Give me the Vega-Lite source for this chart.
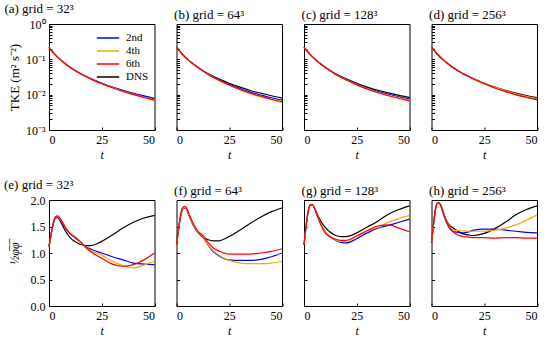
{
"$schema": "https://vega.github.io/schema/vega-lite/v6.json",
"padding": {"left": 3, "top": 2, "right": 5, "bottom": 3},
"bounds": "flush",
"columns": 4,
"spacing": {"row": 70, "column": 21.5},
"resolve": {"scale": {"color": "independent"}, "legend": {"color": "independent"}},
"data": {"values": [
{"p":"a","s":"DNS","t":0,"v":0.22},{"p":"a","s":"DNS","t":2.5,"v":0.145},{"p":"a","s":"DNS","t":5,"v":0.103},{"p":"a","s":"DNS","t":7.5,"v":0.077},{"p":"a","s":"DNS","t":10,"v":0.060},{"p":"a","s":"DNS","t":15,"v":0.039},{"p":"a","s":"DNS","t":20,"v":0.028},{"p":"a","s":"DNS","t":25,"v":0.021},{"p":"a","s":"DNS","t":30,"v":0.0162},{"p":"a","s":"DNS","t":35,"v":0.0130},{"p":"a","s":"DNS","t":40,"v":0.0107},{"p":"a","s":"DNS","t":45,"v":0.0089},{"p":"a","s":"DNS","t":50,"v":0.0076},
{"p":"a","s":"2nd","t":0,"v":0.22},{"p":"a","s":"2nd","t":2.5,"v":0.145},{"p":"a","s":"2nd","t":5,"v":0.103},{"p":"a","s":"2nd","t":7.5,"v":0.077},{"p":"a","s":"2nd","t":10,"v":0.060},{"p":"a","s":"2nd","t":15,"v":0.039},{"p":"a","s":"2nd","t":20,"v":0.028},{"p":"a","s":"2nd","t":25,"v":0.0211},{"p":"a","s":"2nd","t":30,"v":0.0164},{"p":"a","s":"2nd","t":35,"v":0.0132},{"p":"a","s":"2nd","t":40,"v":0.0109},{"p":"a","s":"2nd","t":45,"v":0.0092},{"p":"a","s":"2nd","t":50,"v":0.0079},
{"p":"a","s":"4th","t":0,"v":0.22},{"p":"a","s":"4th","t":2.5,"v":0.145},{"p":"a","s":"4th","t":5,"v":0.103},{"p":"a","s":"4th","t":7.5,"v":0.077},{"p":"a","s":"4th","t":10,"v":0.060},{"p":"a","s":"4th","t":15,"v":0.039},{"p":"a","s":"4th","t":20,"v":0.0278},{"p":"a","s":"4th","t":25,"v":0.0207},{"p":"a","s":"4th","t":30,"v":0.0159},{"p":"a","s":"4th","t":35,"v":0.0126},{"p":"a","s":"4th","t":40,"v":0.0103},{"p":"a","s":"4th","t":45,"v":0.0085},{"p":"a","s":"4th","t":50,"v":0.0072},
{"p":"a","s":"6th","t":0,"v":0.215},{"p":"a","s":"6th","t":2.5,"v":0.142},{"p":"a","s":"6th","t":5,"v":0.101},{"p":"a","s":"6th","t":7.5,"v":0.076},{"p":"a","s":"6th","t":10,"v":0.059},{"p":"a","s":"6th","t":15,"v":0.039},{"p":"a","s":"6th","t":20,"v":0.0275},{"p":"a","s":"6th","t":25,"v":0.0205},{"p":"a","s":"6th","t":30,"v":0.0157},{"p":"a","s":"6th","t":35,"v":0.0124},{"p":"a","s":"6th","t":40,"v":0.0100},{"p":"a","s":"6th","t":45,"v":0.0083},{"p":"a","s":"6th","t":50,"v":0.0069},
{"p":"b","s":"DNS","t":0,"v":0.22},{"p":"b","s":"DNS","t":2.5,"v":0.145},{"p":"b","s":"DNS","t":5,"v":0.103},{"p":"b","s":"DNS","t":7.5,"v":0.077},{"p":"b","s":"DNS","t":10,"v":0.060},{"p":"b","s":"DNS","t":15,"v":0.039},{"p":"b","s":"DNS","t":20,"v":0.028},{"p":"b","s":"DNS","t":25,"v":0.021},{"p":"b","s":"DNS","t":30,"v":0.0163},{"p":"b","s":"DNS","t":35,"v":0.0131},{"p":"b","s":"DNS","t":40,"v":0.0110},{"p":"b","s":"DNS","t":45,"v":0.0093},{"p":"b","s":"DNS","t":50,"v":0.0080},
{"p":"b","s":"2nd","t":0,"v":0.22},{"p":"b","s":"2nd","t":2.5,"v":0.145},{"p":"b","s":"2nd","t":5,"v":0.103},{"p":"b","s":"2nd","t":7.5,"v":0.077},{"p":"b","s":"2nd","t":10,"v":0.060},{"p":"b","s":"2nd","t":15,"v":0.0382},{"p":"b","s":"2nd","t":20,"v":0.0269},{"p":"b","s":"2nd","t":25,"v":0.0197},{"p":"b","s":"2nd","t":30,"v":0.0150},{"p":"b","s":"2nd","t":35,"v":0.0118},{"p":"b","s":"2nd","t":40,"v":0.0098},{"p":"b","s":"2nd","t":45,"v":0.0082},{"p":"b","s":"2nd","t":50,"v":0.0070},
{"p":"b","s":"4th","t":0,"v":0.22},{"p":"b","s":"4th","t":2.5,"v":0.145},{"p":"b","s":"4th","t":5,"v":0.103},{"p":"b","s":"4th","t":7.5,"v":0.077},{"p":"b","s":"4th","t":10,"v":0.060},{"p":"b","s":"4th","t":15,"v":0.0374},{"p":"b","s":"4th","t":20,"v":0.0258},{"p":"b","s":"4th","t":25,"v":0.0185},{"p":"b","s":"4th","t":30,"v":0.0139},{"p":"b","s":"4th","t":35,"v":0.0107},{"p":"b","s":"4th","t":40,"v":0.0087},{"p":"b","s":"4th","t":45,"v":0.0072},{"p":"b","s":"4th","t":50,"v":0.0059},
{"p":"b","s":"6th","t":0,"v":0.22},{"p":"b","s":"6th","t":2.5,"v":0.145},{"p":"b","s":"6th","t":5,"v":0.103},{"p":"b","s":"6th","t":7.5,"v":0.077},{"p":"b","s":"6th","t":10,"v":0.060},{"p":"b","s":"6th","t":15,"v":0.0374},{"p":"b","s":"6th","t":20,"v":0.0258},{"p":"b","s":"6th","t":25,"v":0.0187},{"p":"b","s":"6th","t":30,"v":0.0140},{"p":"b","s":"6th","t":35,"v":0.0110},{"p":"b","s":"6th","t":40,"v":0.0090},{"p":"b","s":"6th","t":45,"v":0.0074},{"p":"b","s":"6th","t":50,"v":0.0063},
{"p":"c","s":"DNS","t":0,"v":0.22},{"p":"c","s":"DNS","t":2.5,"v":0.145},{"p":"c","s":"DNS","t":5,"v":0.103},{"p":"c","s":"DNS","t":7.5,"v":0.077},{"p":"c","s":"DNS","t":10,"v":0.060},{"p":"c","s":"DNS","t":15,"v":0.039},{"p":"c","s":"DNS","t":20,"v":0.028},{"p":"c","s":"DNS","t":25,"v":0.021},{"p":"c","s":"DNS","t":30,"v":0.0164},{"p":"c","s":"DNS","t":35,"v":0.0133},{"p":"c","s":"DNS","t":40,"v":0.0112},{"p":"c","s":"DNS","t":45,"v":0.0096},{"p":"c","s":"DNS","t":50,"v":0.0084},
{"p":"c","s":"2nd","t":0,"v":0.22},{"p":"c","s":"2nd","t":2.5,"v":0.145},{"p":"c","s":"2nd","t":5,"v":0.103},{"p":"c","s":"2nd","t":7.5,"v":0.077},{"p":"c","s":"2nd","t":10,"v":0.060},{"p":"c","s":"2nd","t":15,"v":0.0382},{"p":"c","s":"2nd","t":20,"v":0.0269},{"p":"c","s":"2nd","t":25,"v":0.0200},{"p":"c","s":"2nd","t":30,"v":0.0154},{"p":"c","s":"2nd","t":35,"v":0.0124},{"p":"c","s":"2nd","t":40,"v":0.0103},{"p":"c","s":"2nd","t":45,"v":0.0087},{"p":"c","s":"2nd","t":50,"v":0.0076},
{"p":"c","s":"4th","t":0,"v":0.22},{"p":"c","s":"4th","t":2.5,"v":0.145},{"p":"c","s":"4th","t":5,"v":0.103},{"p":"c","s":"4th","t":7.5,"v":0.077},{"p":"c","s":"4th","t":10,"v":0.060},{"p":"c","s":"4th","t":15,"v":0.0378},{"p":"c","s":"4th","t":20,"v":0.0263},{"p":"c","s":"4th","t":25,"v":0.0193},{"p":"c","s":"4th","t":30,"v":0.0148},{"p":"c","s":"4th","t":35,"v":0.0117},{"p":"c","s":"4th","t":40,"v":0.0096},{"p":"c","s":"4th","t":45,"v":0.0082},{"p":"c","s":"4th","t":50,"v":0.0071},
{"p":"c","s":"6th","t":0,"v":0.22},{"p":"c","s":"6th","t":2.5,"v":0.145},{"p":"c","s":"6th","t":5,"v":0.103},{"p":"c","s":"6th","t":7.5,"v":0.077},{"p":"c","s":"6th","t":10,"v":0.060},{"p":"c","s":"6th","t":15,"v":0.0374},{"p":"c","s":"6th","t":20,"v":0.0260},{"p":"c","s":"6th","t":25,"v":0.0189},{"p":"c","s":"6th","t":30,"v":0.0143},{"p":"c","s":"6th","t":35,"v":0.0113},{"p":"c","s":"6th","t":40,"v":0.0093},{"p":"c","s":"6th","t":45,"v":0.0078},{"p":"c","s":"6th","t":50,"v":0.0067},
{"p":"d","s":"DNS","t":0,"v":0.22},{"p":"d","s":"DNS","t":2.5,"v":0.145},{"p":"d","s":"DNS","t":5,"v":0.103},{"p":"d","s":"DNS","t":7.5,"v":0.077},{"p":"d","s":"DNS","t":10,"v":0.060},{"p":"d","s":"DNS","t":15,"v":0.039},{"p":"d","s":"DNS","t":20,"v":0.028},{"p":"d","s":"DNS","t":25,"v":0.021},{"p":"d","s":"DNS","t":30,"v":0.0163},{"p":"d","s":"DNS","t":35,"v":0.0132},{"p":"d","s":"DNS","t":40,"v":0.0110},{"p":"d","s":"DNS","t":45,"v":0.0094},{"p":"d","s":"DNS","t":50,"v":0.0082},
{"p":"d","s":"2nd","t":0,"v":0.22},{"p":"d","s":"2nd","t":2.5,"v":0.145},{"p":"d","s":"2nd","t":5,"v":0.103},{"p":"d","s":"2nd","t":7.5,"v":0.077},{"p":"d","s":"2nd","t":10,"v":0.060},{"p":"d","s":"2nd","t":15,"v":0.039},{"p":"d","s":"2nd","t":20,"v":0.028},{"p":"d","s":"2nd","t":25,"v":0.0207},{"p":"d","s":"2nd","t":30,"v":0.0158},{"p":"d","s":"2nd","t":35,"v":0.0127},{"p":"d","s":"2nd","t":40,"v":0.0104},{"p":"d","s":"2nd","t":45,"v":0.0088},{"p":"d","s":"2nd","t":50,"v":0.0076},
{"p":"d","s":"4th","t":0,"v":0.22},{"p":"d","s":"4th","t":2.5,"v":0.145},{"p":"d","s":"4th","t":5,"v":0.103},{"p":"d","s":"4th","t":7.5,"v":0.077},{"p":"d","s":"4th","t":10,"v":0.060},{"p":"d","s":"4th","t":15,"v":0.039},{"p":"d","s":"4th","t":20,"v":0.028},{"p":"d","s":"4th","t":25,"v":0.0209},{"p":"d","s":"4th","t":30,"v":0.0161},{"p":"d","s":"4th","t":35,"v":0.0129},{"p":"d","s":"4th","t":40,"v":0.0106},{"p":"d","s":"4th","t":45,"v":0.0090},{"p":"d","s":"4th","t":50,"v":0.0078},
{"p":"d","s":"6th","t":0,"v":0.22},{"p":"d","s":"6th","t":2.5,"v":0.145},{"p":"d","s":"6th","t":5,"v":0.103},{"p":"d","s":"6th","t":7.5,"v":0.077},{"p":"d","s":"6th","t":10,"v":0.060},{"p":"d","s":"6th","t":15,"v":0.039},{"p":"d","s":"6th","t":20,"v":0.0277},{"p":"d","s":"6th","t":25,"v":0.0205},{"p":"d","s":"6th","t":30,"v":0.0155},{"p":"d","s":"6th","t":35,"v":0.0122},{"p":"d","s":"6th","t":40,"v":0.0099},{"p":"d","s":"6th","t":45,"v":0.0083},{"p":"d","s":"6th","t":50,"v":0.0071},
{"p":"e","s":"DNS","t":0,"v":1.12},{"p":"e","s":"DNS","t":1,"v":1.35},{"p":"e","s":"DNS","t":2,"v":1.55},{"p":"e","s":"DNS","t":3,"v":1.66},{"p":"e","s":"DNS","t":4,"v":1.68},{"p":"e","s":"DNS","t":5,"v":1.63},{"p":"e","s":"DNS","t":6,"v":1.55},{"p":"e","s":"DNS","t":8,"v":1.40},{"p":"e","s":"DNS","t":10,"v":1.29},{"p":"e","s":"DNS","t":12.5,"v":1.21},{"p":"e","s":"DNS","t":15,"v":1.16},{"p":"e","s":"DNS","t":17.5,"v":1.14},{"p":"e","s":"DNS","t":20,"v":1.14},{"p":"e","s":"DNS","t":25,"v":1.22},{"p":"e","s":"DNS","t":30,"v":1.34},{"p":"e","s":"DNS","t":35,"v":1.47},{"p":"e","s":"DNS","t":40,"v":1.58},{"p":"e","s":"DNS","t":45,"v":1.66},{"p":"e","s":"DNS","t":50,"v":1.71},
{"p":"e","s":"2nd","t":0,"v":1.12},{"p":"e","s":"2nd","t":1,"v":1.35},{"p":"e","s":"2nd","t":2,"v":1.55},{"p":"e","s":"2nd","t":3,"v":1.65},{"p":"e","s":"2nd","t":4,"v":1.67},{"p":"e","s":"2nd","t":5,"v":1.64},{"p":"e","s":"2nd","t":6,"v":1.58},{"p":"e","s":"2nd","t":8,"v":1.45},{"p":"e","s":"2nd","t":10,"v":1.36},{"p":"e","s":"2nd","t":12.5,"v":1.28},{"p":"e","s":"2nd","t":15,"v":1.20},{"p":"e","s":"2nd","t":17.5,"v":1.12},{"p":"e","s":"2nd","t":20,"v":1.07},{"p":"e","s":"2nd","t":25,"v":1.00},{"p":"e","s":"2nd","t":30,"v":0.93},{"p":"e","s":"2nd","t":35,"v":0.87},{"p":"e","s":"2nd","t":40,"v":0.81},{"p":"e","s":"2nd","t":45,"v":0.79},{"p":"e","s":"2nd","t":50,"v":0.78},
{"p":"e","s":"4th","t":0,"v":1.12},{"p":"e","s":"4th","t":1,"v":1.35},{"p":"e","s":"4th","t":2,"v":1.55},{"p":"e","s":"4th","t":3,"v":1.66},{"p":"e","s":"4th","t":4,"v":1.69},{"p":"e","s":"4th","t":5,"v":1.66},{"p":"e","s":"4th","t":6,"v":1.60},{"p":"e","s":"4th","t":8,"v":1.46},{"p":"e","s":"4th","t":10,"v":1.37},{"p":"e","s":"4th","t":12.5,"v":1.29},{"p":"e","s":"4th","t":15,"v":1.20},{"p":"e","s":"4th","t":17.5,"v":1.11},{"p":"e","s":"4th","t":20,"v":1.04},{"p":"e","s":"4th","t":25,"v":0.96},{"p":"e","s":"4th","t":30,"v":0.85},{"p":"e","s":"4th","t":35,"v":0.76},{"p":"e","s":"4th","t":40,"v":0.72},{"p":"e","s":"4th","t":45,"v":0.77},{"p":"e","s":"4th","t":50,"v":0.85},
{"p":"e","s":"6th","t":0,"v":1.12},{"p":"e","s":"6th","t":1,"v":1.36},{"p":"e","s":"6th","t":2,"v":1.57},{"p":"e","s":"6th","t":3,"v":1.68},{"p":"e","s":"6th","t":4,"v":1.70},{"p":"e","s":"6th","t":5,"v":1.67},{"p":"e","s":"6th","t":6,"v":1.61},{"p":"e","s":"6th","t":8,"v":1.47},{"p":"e","s":"6th","t":10,"v":1.37},{"p":"e","s":"6th","t":12.5,"v":1.30},{"p":"e","s":"6th","t":15,"v":1.21},{"p":"e","s":"6th","t":17.5,"v":1.10},{"p":"e","s":"6th","t":20,"v":1.02},{"p":"e","s":"6th","t":25,"v":0.90},{"p":"e","s":"6th","t":30,"v":0.79},{"p":"e","s":"6th","t":35,"v":0.75},{"p":"e","s":"6th","t":40,"v":0.78},{"p":"e","s":"6th","t":45,"v":0.87},{"p":"e","s":"6th","t":50,"v":1.00},
{"p":"f","s":"DNS","t":0,"v":1.16},{"p":"f","s":"DNS","t":1,"v":1.45},{"p":"f","s":"DNS","t":2,"v":1.70},{"p":"f","s":"DNS","t":3,"v":1.83},{"p":"f","s":"DNS","t":4,"v":1.85},{"p":"f","s":"DNS","t":5,"v":1.80},{"p":"f","s":"DNS","t":6,"v":1.70},{"p":"f","s":"DNS","t":8,"v":1.52},{"p":"f","s":"DNS","t":10,"v":1.40},{"p":"f","s":"DNS","t":12.5,"v":1.30},{"p":"f","s":"DNS","t":15,"v":1.25},{"p":"f","s":"DNS","t":17.5,"v":1.23},{"p":"f","s":"DNS","t":20,"v":1.23},{"p":"f","s":"DNS","t":25,"v":1.31},{"p":"f","s":"DNS","t":30,"v":1.43},{"p":"f","s":"DNS","t":35,"v":1.56},{"p":"f","s":"DNS","t":40,"v":1.68},{"p":"f","s":"DNS","t":45,"v":1.78},{"p":"f","s":"DNS","t":50,"v":1.85},
{"p":"f","s":"2nd","t":0,"v":1.16},{"p":"f","s":"2nd","t":1,"v":1.46},{"p":"f","s":"2nd","t":2,"v":1.71},{"p":"f","s":"2nd","t":3,"v":1.84},{"p":"f","s":"2nd","t":4,"v":1.86},{"p":"f","s":"2nd","t":5,"v":1.81},{"p":"f","s":"2nd","t":6,"v":1.71},{"p":"f","s":"2nd","t":8,"v":1.53},{"p":"f","s":"2nd","t":10,"v":1.41},{"p":"f","s":"2nd","t":12.5,"v":1.30},{"p":"f","s":"2nd","t":15,"v":1.15},{"p":"f","s":"2nd","t":17.5,"v":1.02},{"p":"f","s":"2nd","t":20,"v":0.95},{"p":"f","s":"2nd","t":25,"v":0.87},{"p":"f","s":"2nd","t":30,"v":0.86},{"p":"f","s":"2nd","t":35,"v":0.86},{"p":"f","s":"2nd","t":40,"v":0.88},{"p":"f","s":"2nd","t":45,"v":0.93},{"p":"f","s":"2nd","t":50,"v":1.00},
{"p":"f","s":"4th","t":0,"v":1.16},{"p":"f","s":"4th","t":1,"v":1.46},{"p":"f","s":"4th","t":2,"v":1.71},{"p":"f","s":"4th","t":3,"v":1.84},{"p":"f","s":"4th","t":4,"v":1.86},{"p":"f","s":"4th","t":5,"v":1.81},{"p":"f","s":"4th","t":6,"v":1.71},{"p":"f","s":"4th","t":8,"v":1.53},{"p":"f","s":"4th","t":10,"v":1.41},{"p":"f","s":"4th","t":12.5,"v":1.31},{"p":"f","s":"4th","t":15,"v":1.16},{"p":"f","s":"4th","t":17.5,"v":1.04},{"p":"f","s":"4th","t":20,"v":0.96},{"p":"f","s":"4th","t":25,"v":0.86},{"p":"f","s":"4th","t":30,"v":0.81},{"p":"f","s":"4th","t":35,"v":0.80},{"p":"f","s":"4th","t":40,"v":0.80},{"p":"f","s":"4th","t":45,"v":0.81},{"p":"f","s":"4th","t":50,"v":0.84},
{"p":"f","s":"6th","t":0,"v":1.16},{"p":"f","s":"6th","t":1,"v":1.48},{"p":"f","s":"6th","t":2,"v":1.73},{"p":"f","s":"6th","t":3,"v":1.86},{"p":"f","s":"6th","t":4,"v":1.88},{"p":"f","s":"6th","t":5,"v":1.83},{"p":"f","s":"6th","t":6,"v":1.73},{"p":"f","s":"6th","t":8,"v":1.55},{"p":"f","s":"6th","t":10,"v":1.42},{"p":"f","s":"6th","t":12.5,"v":1.33},{"p":"f","s":"6th","t":15,"v":1.20},{"p":"f","s":"6th","t":17.5,"v":1.09},{"p":"f","s":"6th","t":20,"v":1.04},{"p":"f","s":"6th","t":25,"v":0.98},{"p":"f","s":"6th","t":30,"v":0.98},{"p":"f","s":"6th","t":35,"v":0.98},{"p":"f","s":"6th","t":40,"v":1.00},{"p":"f","s":"6th","t":45,"v":1.03},{"p":"f","s":"6th","t":50,"v":1.08},
{"p":"g","s":"DNS","t":0,"v":1.15},{"p":"g","s":"DNS","t":1,"v":1.50},{"p":"g","s":"DNS","t":2,"v":1.78},{"p":"g","s":"DNS","t":3,"v":1.90},{"p":"g","s":"DNS","t":4,"v":1.91},{"p":"g","s":"DNS","t":5,"v":1.85},{"p":"g","s":"DNS","t":6,"v":1.76},{"p":"g","s":"DNS","t":8,"v":1.60},{"p":"g","s":"DNS","t":10,"v":1.49},{"p":"g","s":"DNS","t":12.5,"v":1.39},{"p":"g","s":"DNS","t":15,"v":1.33},{"p":"g","s":"DNS","t":17.5,"v":1.31},{"p":"g","s":"DNS","t":20,"v":1.31},{"p":"g","s":"DNS","t":25,"v":1.38},{"p":"g","s":"DNS","t":30,"v":1.49},{"p":"g","s":"DNS","t":35,"v":1.60},{"p":"g","s":"DNS","t":40,"v":1.73},{"p":"g","s":"DNS","t":45,"v":1.82},{"p":"g","s":"DNS","t":50,"v":1.89},
{"p":"g","s":"2nd","t":0,"v":1.15},{"p":"g","s":"2nd","t":1,"v":1.51},{"p":"g","s":"2nd","t":2,"v":1.79},{"p":"g","s":"2nd","t":3,"v":1.91},{"p":"g","s":"2nd","t":4,"v":1.91},{"p":"g","s":"2nd","t":5,"v":1.84},{"p":"g","s":"2nd","t":6,"v":1.74},{"p":"g","s":"2nd","t":8,"v":1.55},{"p":"g","s":"2nd","t":10,"v":1.40},{"p":"g","s":"2nd","t":12.5,"v":1.30},{"p":"g","s":"2nd","t":15,"v":1.24},{"p":"g","s":"2nd","t":17.5,"v":1.20},{"p":"g","s":"2nd","t":20,"v":1.19},{"p":"g","s":"2nd","t":25,"v":1.27},{"p":"g","s":"2nd","t":30,"v":1.38},{"p":"g","s":"2nd","t":35,"v":1.47},{"p":"g","s":"2nd","t":40,"v":1.52},{"p":"g","s":"2nd","t":45,"v":1.58},{"p":"g","s":"2nd","t":50,"v":1.64},
{"p":"g","s":"4th","t":0,"v":1.15},{"p":"g","s":"4th","t":1,"v":1.51},{"p":"g","s":"4th","t":2,"v":1.79},{"p":"g","s":"4th","t":3,"v":1.91},{"p":"g","s":"4th","t":4,"v":1.91},{"p":"g","s":"4th","t":5,"v":1.84},{"p":"g","s":"4th","t":6,"v":1.74},{"p":"g","s":"4th","t":8,"v":1.55},{"p":"g","s":"4th","t":10,"v":1.40},{"p":"g","s":"4th","t":12.5,"v":1.31},{"p":"g","s":"4th","t":15,"v":1.25},{"p":"g","s":"4th","t":17.5,"v":1.22},{"p":"g","s":"4th","t":20,"v":1.22},{"p":"g","s":"4th","t":25,"v":1.32},{"p":"g","s":"4th","t":30,"v":1.43},{"p":"g","s":"4th","t":35,"v":1.48},{"p":"g","s":"4th","t":40,"v":1.58},{"p":"g","s":"4th","t":45,"v":1.65},{"p":"g","s":"4th","t":50,"v":1.71},
{"p":"g","s":"6th","t":0,"v":1.15},{"p":"g","s":"6th","t":1,"v":1.52},{"p":"g","s":"6th","t":2,"v":1.80},{"p":"g","s":"6th","t":3,"v":1.92},{"p":"g","s":"6th","t":4,"v":1.92},{"p":"g","s":"6th","t":5,"v":1.84},{"p":"g","s":"6th","t":6,"v":1.73},{"p":"g","s":"6th","t":8,"v":1.53},{"p":"g","s":"6th","t":10,"v":1.38},{"p":"g","s":"6th","t":12.5,"v":1.30},{"p":"g","s":"6th","t":15,"v":1.26},{"p":"g","s":"6th","t":17.5,"v":1.24},{"p":"g","s":"6th","t":20,"v":1.24},{"p":"g","s":"6th","t":25,"v":1.32},{"p":"g","s":"6th","t":30,"v":1.42},{"p":"g","s":"6th","t":35,"v":1.51},{"p":"g","s":"6th","t":40,"v":1.53},{"p":"g","s":"6th","t":45,"v":1.47},{"p":"g","s":"6th","t":50,"v":1.40},
{"p":"h","s":"DNS","t":0,"v":1.19},{"p":"h","s":"DNS","t":1,"v":1.55},{"p":"h","s":"DNS","t":2,"v":1.84},{"p":"h","s":"DNS","t":3,"v":1.94},{"p":"h","s":"DNS","t":4,"v":1.93},{"p":"h","s":"DNS","t":5,"v":1.84},{"p":"h","s":"DNS","t":6,"v":1.72},{"p":"h","s":"DNS","t":8,"v":1.55},{"p":"h","s":"DNS","t":10,"v":1.48},{"p":"h","s":"DNS","t":12.5,"v":1.41},{"p":"h","s":"DNS","t":15,"v":1.36},{"p":"h","s":"DNS","t":17.5,"v":1.34},{"p":"h","s":"DNS","t":20,"v":1.33},{"p":"h","s":"DNS","t":25,"v":1.37},{"p":"h","s":"DNS","t":30,"v":1.46},{"p":"h","s":"DNS","t":35,"v":1.58},{"p":"h","s":"DNS","t":40,"v":1.72},{"p":"h","s":"DNS","t":45,"v":1.82},{"p":"h","s":"DNS","t":50,"v":1.89},
{"p":"h","s":"2nd","t":0,"v":1.19},{"p":"h","s":"2nd","t":1,"v":1.56},{"p":"h","s":"2nd","t":2,"v":1.85},{"p":"h","s":"2nd","t":3,"v":1.94},{"p":"h","s":"2nd","t":4,"v":1.92},{"p":"h","s":"2nd","t":5,"v":1.82},{"p":"h","s":"2nd","t":6,"v":1.69},{"p":"h","s":"2nd","t":8,"v":1.50},{"p":"h","s":"2nd","t":10,"v":1.41},{"p":"h","s":"2nd","t":12.5,"v":1.39},{"p":"h","s":"2nd","t":15,"v":1.38},{"p":"h","s":"2nd","t":17.5,"v":1.40},{"p":"h","s":"2nd","t":20,"v":1.43},{"p":"h","s":"2nd","t":25,"v":1.45},{"p":"h","s":"2nd","t":30,"v":1.45},{"p":"h","s":"2nd","t":35,"v":1.43},{"p":"h","s":"2nd","t":40,"v":1.41},{"p":"h","s":"2nd","t":45,"v":1.39},{"p":"h","s":"2nd","t":50,"v":1.38},
{"p":"h","s":"4th","t":0,"v":1.19},{"p":"h","s":"4th","t":1,"v":1.56},{"p":"h","s":"4th","t":2,"v":1.85},{"p":"h","s":"4th","t":3,"v":1.94},{"p":"h","s":"4th","t":4,"v":1.92},{"p":"h","s":"4th","t":5,"v":1.83},{"p":"h","s":"4th","t":6,"v":1.71},{"p":"h","s":"4th","t":8,"v":1.53},{"p":"h","s":"4th","t":10,"v":1.44},{"p":"h","s":"4th","t":12.5,"v":1.42},{"p":"h","s":"4th","t":15,"v":1.42},{"p":"h","s":"4th","t":17.5,"v":1.41},{"p":"h","s":"4th","t":20,"v":1.41},{"p":"h","s":"4th","t":25,"v":1.41},{"p":"h","s":"4th","t":30,"v":1.43},{"p":"h","s":"4th","t":35,"v":1.47},{"p":"h","s":"4th","t":40,"v":1.53},{"p":"h","s":"4th","t":45,"v":1.62},{"p":"h","s":"4th","t":50,"v":1.72},
{"p":"h","s":"6th","t":0,"v":1.19},{"p":"h","s":"6th","t":1,"v":1.57},{"p":"h","s":"6th","t":2,"v":1.86},{"p":"h","s":"6th","t":3,"v":1.95},{"p":"h","s":"6th","t":4,"v":1.93},{"p":"h","s":"6th","t":5,"v":1.83},{"p":"h","s":"6th","t":6,"v":1.70},{"p":"h","s":"6th","t":8,"v":1.52},{"p":"h","s":"6th","t":10,"v":1.41},{"p":"h","s":"6th","t":12.5,"v":1.34},{"p":"h","s":"6th","t":15,"v":1.31},{"p":"h","s":"6th","t":17.5,"v":1.30},{"p":"h","s":"6th","t":20,"v":1.29},{"p":"h","s":"6th","t":25,"v":1.29},{"p":"h","s":"6th","t":30,"v":1.28},{"p":"h","s":"6th","t":35,"v":1.29},{"p":"h","s":"6th","t":40,"v":1.29},{"p":"h","s":"6th","t":45,"v":1.28},{"p":"h","s":"6th","t":50,"v":1.28}
]},
"concat": [
{"title": {"text": "(a) grid = 32³", "dx": -4}, "width": 105.5, "height": 106,
 "transform": [{"filter": "datum.p == 'a'"}],
 "mark": {"type": "line", "strokeWidth": 1.2, "interpolate": "monotone"},
 "encoding": {
  "x": {"field": "t", "type": "quantitative", "scale": {"domain": [0, 50]}, "axis": {"values": [0, 25, 50], "title": "t"}},
  "y": {"field": "v", "type": "quantitative", "scale": {"type": "log", "domain": [0.001, 1]}, "axis": {"values": [0.001,0.002,0.003,0.004,0.005,0.006,0.007,0.008,0.009,0.01,0.02,0.03,0.04,0.05,0.06,0.07,0.08,0.09,0.1,0.2,0.3,0.4,0.5,0.6,0.7,0.8,0.9,1], "labelExpr": "datum.value == 1 ? '10⁰' : datum.value == 0.1 ? '10⁻¹' : datum.value == 0.01 ? '10⁻²' : datum.value == 0.001 ? '10⁻³' : ''", "labelOverlap": false, "title": "TKE (m² s⁻²)", "titleFontSize": 13}},
  "color": {"field": "s", "type": "nominal", "scale": {"domain": ["2nd", "4th", "6th", "DNS"], "range": ["#0000ff", "#ffa500", "#ff0000", "#000000"]}, "legend": {"orient": "top-right", "title": null, "symbolType": "M-1.6,0L1.6,0", "symbolSize": 196, "symbolStrokeWidth": 1.5, "labelFont": "Liberation Serif", "labelFontSize": 11, "labelColor": "black", "labelOffset": 10, "rowPadding": 0, "offset": 6}}
 }},
{"title": {"text": "(b) grid = 64³"}, "width": 105.5, "height": 106,
 "transform": [{"filter": "datum.p == 'b'"}],
 "mark": {"type": "line", "strokeWidth": 1.2, "interpolate": "monotone"},
 "encoding": {
  "x": {"field": "t", "type": "quantitative", "scale": {"domain": [0, 50]}, "axis": {"values": [0, 25, 50], "title": "t"}},
  "y": {"field": "v", "type": "quantitative", "scale": {"type": "log", "domain": [0.001, 1]}, "axis": {"values": [0.001,0.002,0.003,0.004,0.005,0.006,0.007,0.008,0.009,0.01,0.02,0.03,0.04,0.05,0.06,0.07,0.08,0.09,0.1,0.2,0.3,0.4,0.5,0.6,0.7,0.8,0.9,1], "labels": false, "title": null}},
  "color": {"field": "s", "type": "nominal", "scale": {"domain": ["2nd", "4th", "6th", "DNS"], "range": ["#0000ff", "#ffa500", "#ff0000", "#000000"]}, "legend": null}
 }},
{"title": {"text": "(c) grid = 128³"}, "width": 105.5, "height": 106,
 "transform": [{"filter": "datum.p == 'c'"}],
 "mark": {"type": "line", "strokeWidth": 1.2, "interpolate": "monotone"},
 "encoding": {
  "x": {"field": "t", "type": "quantitative", "scale": {"domain": [0, 50]}, "axis": {"values": [0, 25, 50], "title": "t"}},
  "y": {"field": "v", "type": "quantitative", "scale": {"type": "log", "domain": [0.001, 1]}, "axis": {"values": [0.001,0.002,0.003,0.004,0.005,0.006,0.007,0.008,0.009,0.01,0.02,0.03,0.04,0.05,0.06,0.07,0.08,0.09,0.1,0.2,0.3,0.4,0.5,0.6,0.7,0.8,0.9,1], "labels": false, "title": null}},
  "color": {"field": "s", "type": "nominal", "scale": {"domain": ["2nd", "4th", "6th", "DNS"], "range": ["#0000ff", "#ffa500", "#ff0000", "#000000"]}, "legend": null}
 }},
{"title": {"text": "(d) grid = 256³"}, "width": 105.5, "height": 106,
 "transform": [{"filter": "datum.p == 'd'"}],
 "mark": {"type": "line", "strokeWidth": 1.2, "interpolate": "monotone"},
 "encoding": {
  "x": {"field": "t", "type": "quantitative", "scale": {"domain": [0, 50]}, "axis": {"values": [0, 25, 50], "title": "t"}},
  "y": {"field": "v", "type": "quantitative", "scale": {"type": "log", "domain": [0.001, 1]}, "axis": {"values": [0.001,0.002,0.003,0.004,0.005,0.006,0.007,0.008,0.009,0.01,0.02,0.03,0.04,0.05,0.06,0.07,0.08,0.09,0.1,0.2,0.3,0.4,0.5,0.6,0.7,0.8,0.9,1], "labels": false, "title": null}},
  "color": {"field": "s", "type": "nominal", "scale": {"domain": ["2nd", "4th", "6th", "DNS"], "range": ["#0000ff", "#ffa500", "#ff0000", "#000000"]}, "legend": null}
 }},
{"title": {"text": "(e) grid = 32³", "dx": -4}, "width": 105.5, "height": 106,
 "transform": [{"filter": "datum.p == 'e'"}],
 "mark": {"type": "line", "strokeWidth": 1.2, "interpolate": "monotone"},
 "encoding": {
  "x": {"field": "t", "type": "quantitative", "scale": {"domain": [0, 50]}, "axis": {"values": [0, 25, 50], "title": "t"}},
  "y": {"field": "v", "type": "quantitative", "scale": {"domain": [0, 2]}, "axis": {"values": [0, 0.5, 1, 1.5, 2], "format": ".1f", "title": "½φ̅φ̅", "titleFontStyle": "italic", "titlePadding": 9}},
  "color": {"field": "s", "type": "nominal", "scale": {"domain": ["2nd", "4th", "6th", "DNS"], "range": ["#0000ff", "#ffa500", "#ff0000", "#000000"]}, "legend": null}
 }},
{"title": {"text": "(f) grid = 64³"}, "width": 105.5, "height": 106,
 "transform": [{"filter": "datum.p == 'f'"}],
 "mark": {"type": "line", "strokeWidth": 1.2, "interpolate": "monotone"},
 "encoding": {
  "x": {"field": "t", "type": "quantitative", "scale": {"domain": [0, 50]}, "axis": {"values": [0, 25, 50], "title": "t"}},
  "y": {"field": "v", "type": "quantitative", "scale": {"domain": [0, 2]}, "axis": {"values": [0, 0.5, 1, 1.5, 2], "labels": false, "title": null}},
  "color": {"field": "s", "type": "nominal", "scale": {"domain": ["2nd", "4th", "6th", "DNS"], "range": ["#0000ff", "#ffa500", "#ff0000", "#000000"]}, "legend": null}
 }},
{"title": {"text": "(g) grid = 128³"}, "width": 105.5, "height": 106,
 "transform": [{"filter": "datum.p == 'g'"}],
 "mark": {"type": "line", "strokeWidth": 1.2, "interpolate": "monotone"},
 "encoding": {
  "x": {"field": "t", "type": "quantitative", "scale": {"domain": [0, 50]}, "axis": {"values": [0, 25, 50], "title": "t"}},
  "y": {"field": "v", "type": "quantitative", "scale": {"domain": [0, 2]}, "axis": {"values": [0, 0.5, 1, 1.5, 2], "labels": false, "title": null}},
  "color": {"field": "s", "type": "nominal", "scale": {"domain": ["2nd", "4th", "6th", "DNS"], "range": ["#0000ff", "#ffa500", "#ff0000", "#000000"]}, "legend": null}
 }},
{"title": {"text": "(h) grid = 256³"}, "width": 105.5, "height": 106,
 "transform": [{"filter": "datum.p == 'h'"}],
 "mark": {"type": "line", "strokeWidth": 1.2, "interpolate": "monotone"},
 "encoding": {
  "x": {"field": "t", "type": "quantitative", "scale": {"domain": [0, 50]}, "axis": {"values": [0, 25, 50], "title": "t"}},
  "y": {"field": "v", "type": "quantitative", "scale": {"domain": [0, 2]}, "axis": {"values": [0, 0.5, 1, 1.5, 2], "labels": false, "title": null}},
  "color": {"field": "s", "type": "nominal", "scale": {"domain": ["2nd", "4th", "6th", "DNS"], "range": ["#0000ff", "#ffa500", "#ff0000", "#000000"]}, "legend": null}
 }}
],
"config": {
 "font": "Liberation Serif",
 "view": {"stroke": "black", "strokeWidth": 1},
 "axis": {"domain": false, "grid": false, "tickColor": "black", "tickSize": -3, "tickWidth": 1, "labelFont": "Liberation Serif", "labelFontSize": 12, "labelColor": "black", "labelPadding": 7, "titleFont": "Liberation Serif", "titleFontSize": 12, "titleFontWeight": "normal", "titleColor": "black", "titlePadding": 4},
 "axisX": {"titleFontStyle": "italic"},
 "title": {"font": "Liberation Serif", "fontSize": 13, "fontWeight": "normal", "anchor": "start", "offset": 2, "color": "black"},
 "style": {"group-title": {"font": "Liberation Serif", "fontSize": 13, "fontWeight": "normal"}}
}
}
